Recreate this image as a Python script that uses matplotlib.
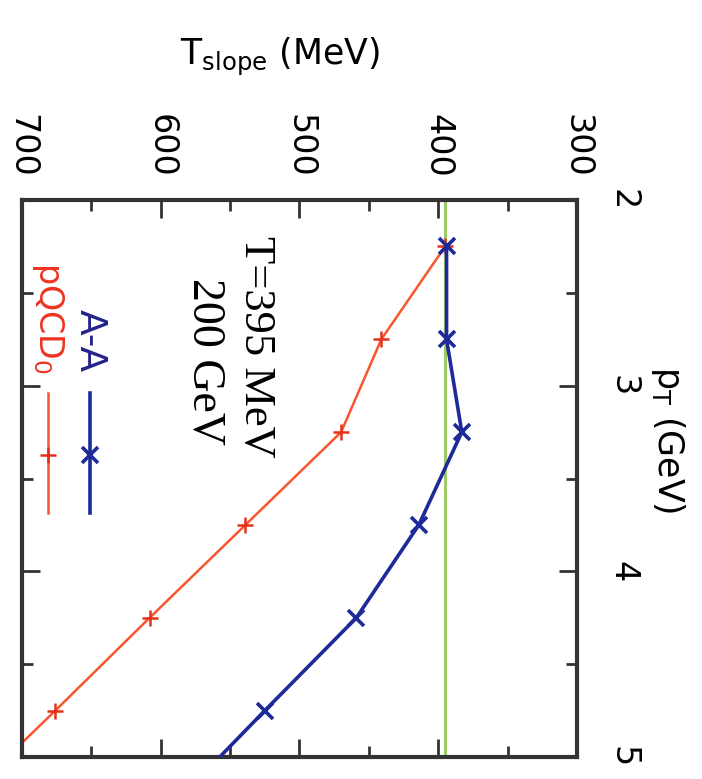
import matplotlib
matplotlib.use("Agg")
import matplotlib.pyplot as plt
from matplotlib.ticker import MultipleLocator

# ---- Data ---------------------------------------------------
pt_bins = [2.25, 2.75, 3.25, 3.75, 4.25, 4.75, 5.25]          # GeV
t_slope_aa = [394, 394, 383, 414, 459, 525, 590]               # MeV, A-A
t_slope_pqcd = [395, 441, 470, 539, 608, 676, 745]             # MeV, pQCD
t_ref = 395                                                    # MeV, reference line
t_label = "T=395 MeV"
energy_label = "200 GeV"
series_labels = ["pQCD$_0$", "A-A"]

plt.rcParams["font.family"] = ["DejaVu Sans"]

RED = "#f9552f"
BLUE = "#1e2a9a"
GREEN = "#9bcc68"
FRAME = "#333333"

# ---- Figure (axes transposed: T horizontal, pT vertical) ----
fig = plt.figure(figsize=(7.02, 7.79), dpi=100)
fig.patch.set_facecolor("white")
ax = fig.add_axes([0.0313, 0.0282, 0.7906, 0.7150])

ax.axvline(t_ref, color=GREEN, lw=2.2, zorder=1)
ax.plot(t_slope_pqcd, pt_bins, color=RED, lw=1.8, marker="+", ms=11,
        mew=1.8, mec="#e5301a", zorder=2)
ax.plot(t_slope_aa, pt_bins, color=BLUE, lw=2.6, marker="x", ms=11,
        mew=2.6, zorder=3)

ax.set_xlim(700, 300)
ax.set_ylim(5, 2)

# ---- Ticks --------------------------------------------------
ax.xaxis.set_major_locator(MultipleLocator(100))
ax.xaxis.set_minor_locator(MultipleLocator(50))
ax.yaxis.set_major_locator(MultipleLocator(1))
ax.yaxis.set_minor_locator(MultipleLocator(0.5))
ax.xaxis.tick_top()
ax.yaxis.tick_right()
ax.tick_params(which="both", direction="in", top=True, bottom=True,
               left=True, right=True, color=FRAME, width=2)
ax.tick_params(which="major", length=13)
ax.tick_params(which="minor", length=8)
ax.tick_params(axis="x", labeltop=True, labelbottom=False, pad=16,
               labelsize=24, labelrotation=-90)
ax.tick_params(axis="y", labelright=True, labelleft=False, pad=21,
               labelsize=24, labelrotation=-90)
plt.setp(ax.get_yticklabels(), va="center")

for sp in ax.spines.values():
    sp.set_color(FRAME)
    sp.set_linewidth(3)

# ---- Axis labels --------------------------------------------
ax.set_xlabel("T$_{\\rm slope}$ (MeV)", fontsize=25)
ax.xaxis.set_label_position("top")
ax.xaxis.set_label_coords(0.465, 1.257)
ax.xaxis.label.set_va("center")

ax.set_ylabel("p$_{\\rm T}$ (GeV)", fontsize=25)
ax.yaxis.set_label_position("right")
ax.yaxis.set_label_coords(1.164, 0.569)
ax.yaxis.label.set_rotation(-90)
ax.yaxis.label.set_rotation_mode("default")
ax.yaxis.label.set_va("center")
ax.yaxis.label.set_ha("center")

# ---- Annotations --------------------------------------------
ax.text(0.33, 0.711, energy_label, transform=ax.transAxes, rotation=-90,
        ha="center", va="center", fontsize=33, family="Liberation Serif")
ax.text(0.4216, 0.736, t_label, transform=ax.transAxes, rotation=-90,
        ha="center", va="center", fontsize=32, family="Liberation Serif")

# ---- Key (drawn vertically, text above sample) --------------
key_x = [0.047, 0.1225]
key_style = [dict(color=RED, lw=1.8, marker="+", ms=11, mew=1.8, mec="#e5301a"),
             dict(color=BLUE, lw=2.6, marker="x", ms=11, mew=2.6)]
key_text_y = [0.688, 0.691]
key_sizes = [24, 27]
key_colors = ["#ee3322", "#22228a"]
for kx, st, ty, lab, col, fs in zip(key_x, key_style, key_text_y,
                                    series_labels, key_colors, key_sizes):
    ax.plot([kx, kx], [0.438, 0.6535], transform=ax.transAxes,
            color=st["color"], lw=st["lw"])
    ax.plot([kx], [0.542], transform=ax.transAxes, linestyle="none",
            marker=st["marker"], ms=st["ms"], mew=st["mew"],
            color=st.get("mec", st["color"]))
    ax.text(kx, ty, lab, transform=ax.transAxes, rotation=-90, color=col,
            ha="center", va="bottom", fontsize=fs)

plt.savefig("out.png", dpi=100, facecolor=fig.get_facecolor())
plt.close()
